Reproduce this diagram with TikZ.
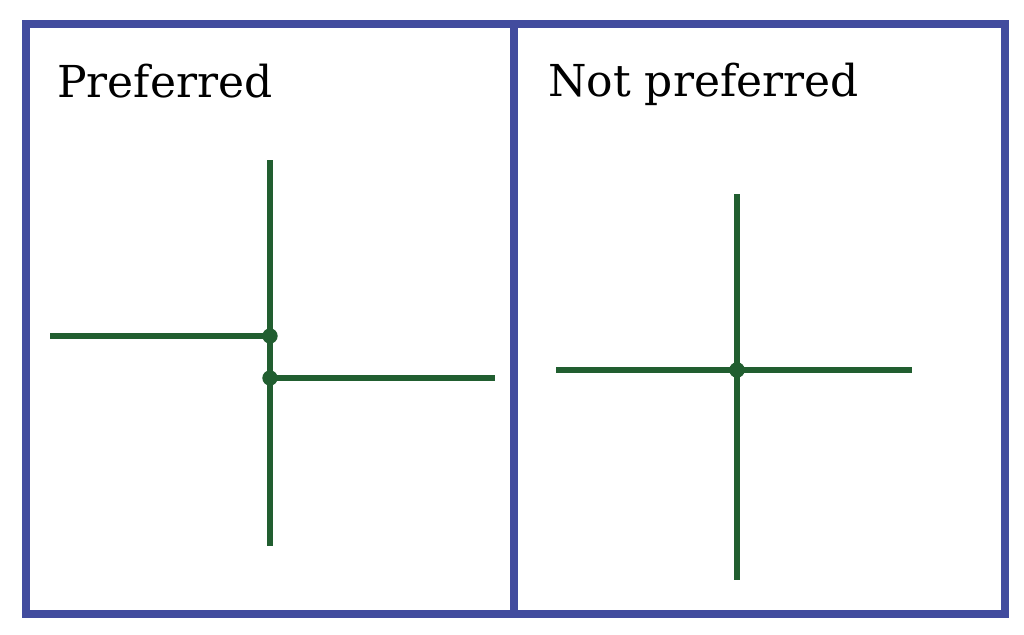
\documentclass[tikz,border=0pt]{standalone}
\usepackage{tikz}
\usepackage{fontspec}
\setmainfont{DejaVu Serif}
\definecolor{framebl}{RGB}{66,76,158}
\definecolor{wiregr}{RGB}{33,94,48}
\tikzset{every picture/.style={x=0.75pt,y=-0.75pt}}
\tikzset{
  panel/.style={draw=framebl,line width=6pt},
  wire/.style={draw=wiregr,line width=4pt},
  joint/.style={circle,fill=wiregr,inner sep=0pt,minimum size=11.5pt},
  heading/.style={anchor=base west,inner sep=0pt,font=\fontsize{33}{38}\selectfont}
}
\begin{document}
\begin{tikzpicture}
    \useasboundingbox (0,0) rectangle (1024,635);

    % Frame and divider
    \draw[panel] (25.5,24.5) rectangle (1005,614);
    \draw[panel] (514,24.5) -- (514,614);

    % Headings
    \node[heading] (prefLabel) at (57,98) {Preferred};
    \node[heading] (notLabel) at (548,97) {Not preferred};

    % Left panel: offset junctions
    \coordinate (lTop) at (270,160);
    \coordinate (lBot) at (270,546);
    \coordinate (lWest) at (50,336);
    \coordinate (lEast) at (495,378);
    \node[joint] (lJoinA) at (270,336) {};
    \node[joint] (lJoinB) at (270,378) {};
    \draw[wire] (lTop) -- (lBot);
    \draw[wire] (lWest) -- (lJoinA.center);
    \draw[wire] (lJoinB.center) -- (lEast);

    % Right panel: four-way crossing
    \coordinate (rTop) at (737,194);
    \coordinate (rBot) at (737,580);
    \coordinate (rWest) at (556,370);
    \coordinate (rEast) at (912,370);
    \node[joint] (rJoin) at (737,370) {};
    \draw[wire] (rTop) -- (rBot);
    \draw[wire] (rWest) -- (rEast);
    \node[joint] at (rJoin) {};
\end{tikzpicture}
\end{document}
